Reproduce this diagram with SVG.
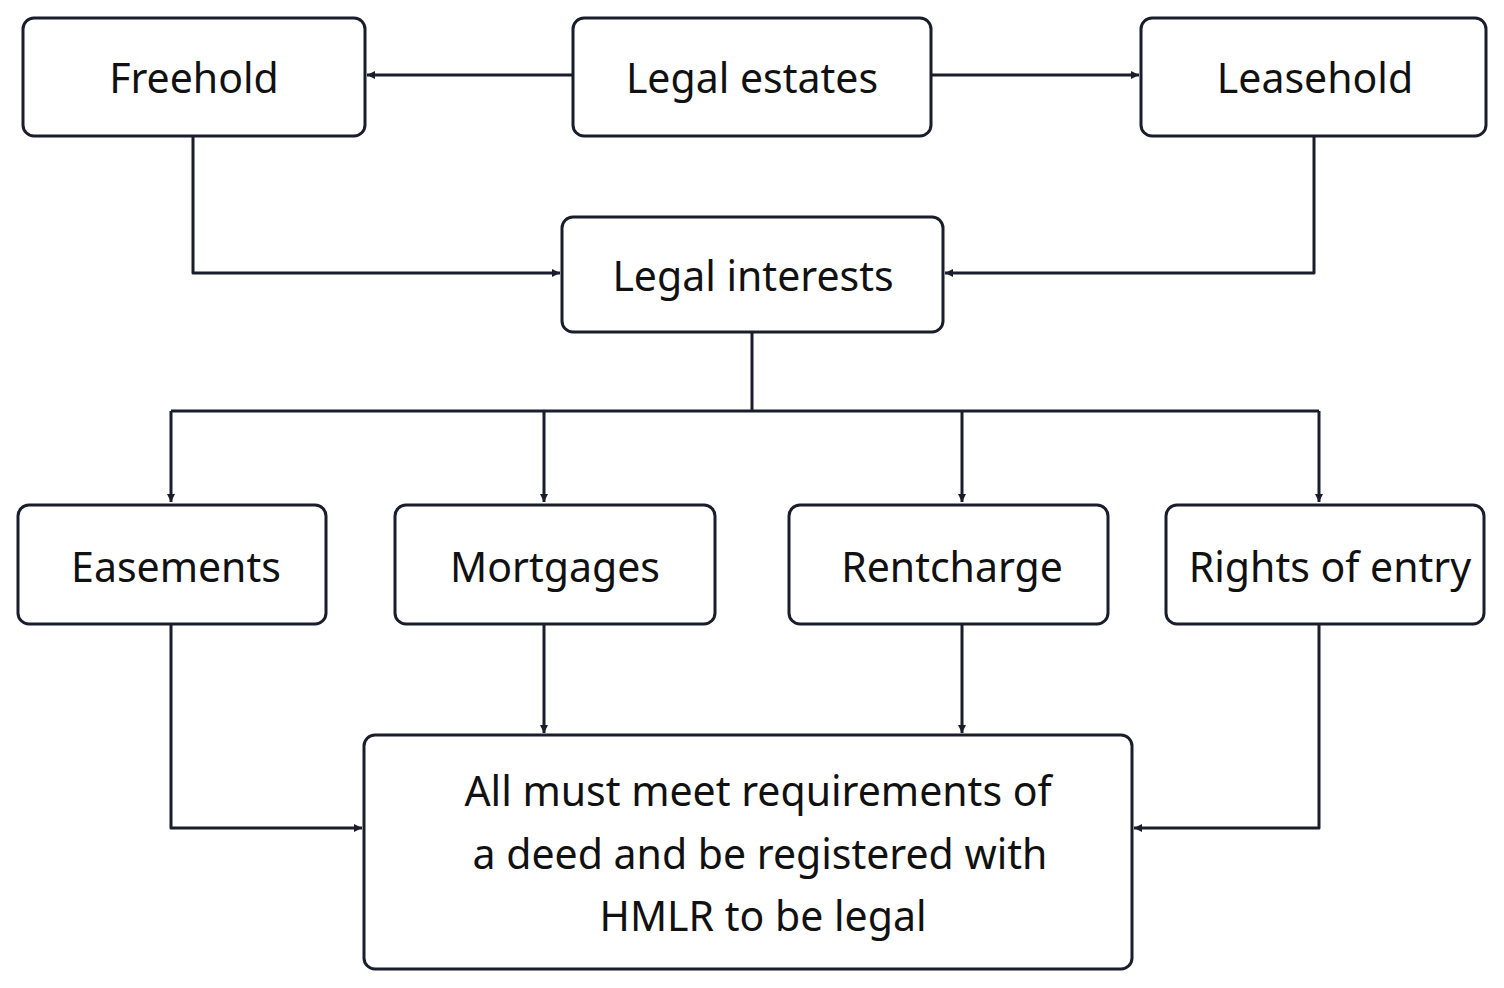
<svg xmlns="http://www.w3.org/2000/svg" width="1504" height="988" viewBox="0 0 1504 988">
<style>
.n{fill:#fff;stroke:#1a1d2b;stroke-width:3}
.t{font-family:"Noto Sans","Open Sans",sans-serif;font-size:41px;fill:#111;text-anchor:middle;dominant-baseline:central}
.c{fill:none;stroke:#1a1d2b;stroke-width:3;stroke-linejoin:round}
</style>
<defs><marker id="a" viewBox="0 0 10 10" refX="10" refY="5" markerWidth="8" markerHeight="8" markerUnits="userSpaceOnUse" orient="auto"><path d="M0,0L10,5L0,10z" fill="#1a1d2b"/></marker></defs>
<rect width="1504" height="988" fill="#fff"/>
<g id="connectors">
<path class="c" marker-end="url(#a)" d="M573,75H367" style="marker-end:url(#a)"/>
<path class="c" d="M931,75H1139" marker-end="url(#a)"/>
<path class="c" d="M193,136V273H560" marker-end="url(#a)"/>
<path class="c" d="M1314,136V273H945" marker-end="url(#a)"/>
<path class="c" d="M752,332V411"/>
<path class="c" d="M171,411H1319"/>
<path class="c" d="M171,411V502" marker-end="url(#a)"/>
<path class="c" d="M544,411V502" marker-end="url(#a)"/>
<path class="c" d="M962,411V502" marker-end="url(#a)"/>
<path class="c" d="M1319,411V502" marker-end="url(#a)"/>
<path class="c" d="M171,624V828H362" marker-end="url(#a)"/>
<path class="c" d="M544,624V733" marker-end="url(#a)"/>
<path class="c" d="M962,624V733" marker-end="url(#a)"/>
<path class="c" d="M1319,624V828H1134" marker-end="url(#a)"/>
</g>
<g id="freehold"><rect class="n" x="23" y="18" width="342" height="118" rx="11"/><text class="t" x="194" y="77">Freehold</text></g>
<g id="legal-estates"><rect class="n" x="573" y="18" width="358" height="118" rx="11"/><text class="t" x="752" y="77">Legal estates</text></g>
<g id="leasehold"><rect class="n" x="1141" y="18" width="345" height="118" rx="11"/><text class="t" x="1315" y="77">Leasehold</text></g>
<g id="legal-interests"><rect class="n" x="562" y="217" width="381" height="115" rx="11"/><text class="t" x="753" y="275">Legal interests</text></g>
<g id="easements"><rect class="n" x="18" y="505" width="308" height="119" rx="11"/><text class="t" x="176" y="566">Easements</text></g>
<g id="mortgages"><rect class="n" x="395" y="505" width="320" height="119" rx="11"/><text class="t" x="555" y="566">Mortgages</text></g>
<g id="rentcharge"><rect class="n" x="789" y="505" width="319" height="119" rx="11"/><text class="t" x="952" y="566">Rentcharge</text></g>
<g id="rights-of-entry"><rect class="n" x="1166" y="505" width="318" height="119" rx="11"/><text class="t" x="1330" y="566">Rights of entry</text></g>
<g id="requirements"><rect class="n" x="364" y="735" width="768" height="234" rx="11"/>
<text class="t" x="758" y="790">All must meet requirements of</text>
<text class="t" x="760" y="853">a deed and be registered with</text>
<text class="t" x="763" y="915">HMLR to be legal</text></g>
</svg>
